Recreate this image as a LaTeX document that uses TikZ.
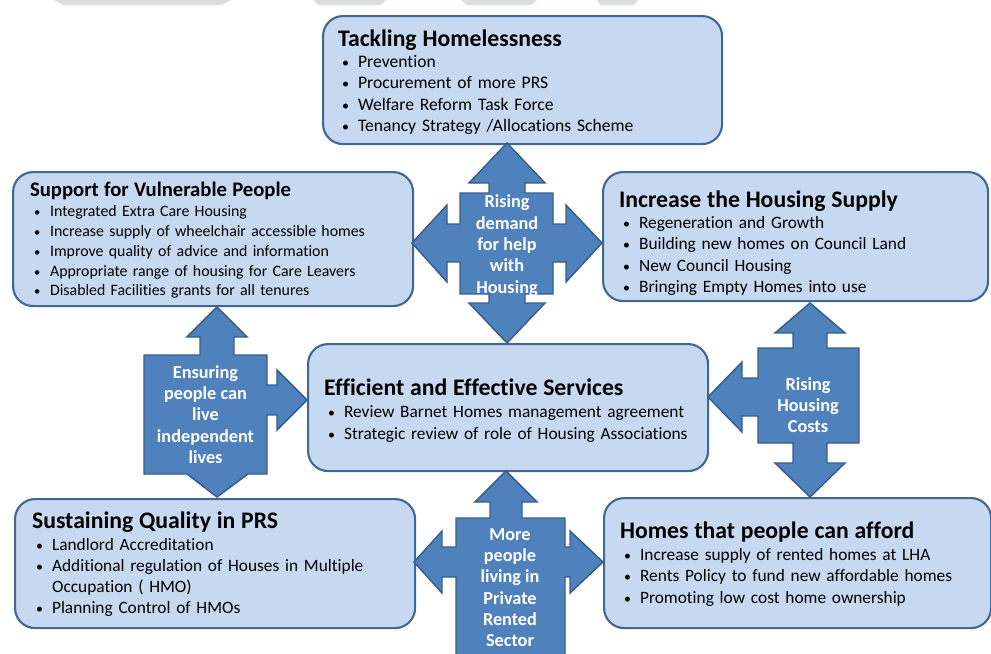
\documentclass[tikz,border=0pt]{standalone}
\usepackage{fontspec}
\setmainfont[Ligatures=NoCommon]{Carlito}
\definecolor{boxfill}{HTML}{C6D9F1}
\definecolor{boxline}{HTML}{41698F}
\definecolor{arrfill}{HTML}{4F81BD}
\definecolor{arrline}{HTML}{385D8A}
\definecolor{scrap}{HTML}{DCDCDC}
\newcommand{\bul}{\hspace*{3pt}\makebox[12pt][l]{\scalebox{0.8}{\textbullet}}}
\newcommand{\hd}[2]{{\bfseries\fontsize{#1}{#1}\selectfont #2}}
\tikzset{
  topic/.style={draw=boxline, fill=boxfill, line width=1.6pt, rounded corners=15pt,
    align=left, inner xsep=12pt, inner ysep=0pt, anchor=north west},
  callout/.style={draw=arrline, fill=arrfill, line width=1.1pt},
  callouttext/.style={text=white, font=\bfseries\fontsize{13.7}{16}\selectfont, align=center},
}
\begin{document}
\begin{tikzpicture}[x=0.75pt,y=-0.75pt]
  \clip (0,0) rectangle (991,653);
  % scraps of the page above
  \fill[scrap] (54,0) -- (231,0) -- (222,5) -- (63,5) -- cycle;
  \fill[scrap] (313,0) -- (386,0) -- (380,5) -- (318,5) -- cycle;
  \fill[scrap] (461,0) -- (537,0) -- (531,5) -- (467,5) -- cycle;
  \fill[scrap] (597,0) -- (638,0) -- (634,5) -- (600,5) -- cycle;

  % topic boxes
  \path (322,15) node[topic, inner xsep=11.25pt, text width=276.75pt,
      text height=22.5pt, text depth=73.5pt,
      font=\fontsize{13.2}{16}\selectfont] (homeless) {%
    \hd{17.8}{Tackling Homelessness}\\
    \bul Prevention\\
    \bul Procurement of more PRS\\
    \bul Welfare Reform Task Force\\
    \bul Tenancy Strategy /Allocations Scheme};
  \path (12,171) node[topic, inner xsep=12.75pt, text width=274.5pt,
      text height=18pt, text depth=82.5pt,
      font=\fontsize{11.9}{14.8}\selectfont] (vulnerable) {%
    \hd{15.5}{Support for Vulnerable People}\\[0.8pt]
    \bul Integrated Extra Care Housing\\
    \bul Increase supply of wheelchair accessible homes\\
    \bul Improve quality of advice and information\\
    \bul Appropriate range of housing for Care Leavers\\
    \bul Disabled Facilities grants for all tenures};
  \path (602,171) node[topic, text width=264.75pt,
      text height=26.25pt, text depth=70.5pt,
      font=\fontsize{13}{16}\selectfont] (supply) {%
    \hd{17.8}{Increase the Housing Supply}\\
    \bul Regeneration and Growth\\
    \bul Building new homes on Council Land\\
    \bul New Council Housing\\
    \bul Bringing Empty Homes into use};
  \path (307,343) node[topic, text width=276pt,
      text height=38.25pt, text depth=57pt,
      font=\fontsize{13}{16.5}\selectfont] (services) {%
    \hd{17.8}{Efficient and Effective Services}\\[0.3pt]
    \bul Review Barnet Homes management agreement\\
    \bul Strategic review of role of Housing Associations};
  \path (14,498) node[topic, inner xsep=12.75pt, text width=274.5pt,
      text height=21.75pt, text depth=75pt,
      font=\fontsize{13}{15.75}\selectfont] (prs) {%
    \hd{17.8}{Sustaining Quality in PRS}\\[1pt]
    \bul Landlord Accreditation\\
    \bul Additional regulation of Houses in Multiple\\
    \hspace*{15pt}Occupation ( HMO)\\
    \bul Planning Control of HMOs};
  \path (603,497) node[topic, text width=266.25pt,
      text height=30pt, text depth=67.5pt,
      font=\fontsize{13}{16}\selectfont] (afford) {%
    \hd{17.8}{Homes that people can afford}\\[0.8pt]
    \bul Increase supply of rented homes at LHA\\
    \bul Rents Policy to fund new affordable homes\\
    \bul Promoting low cost home ownership};

  % callout arrows
  \draw[callout] (507,143) -- (545,183) -- (525,183) -- (525,193) -- (553,193)
    -- (553,224) -- (566,224) -- (566,205) -- (602,243) -- (566,282) -- (566,262)
    -- (553,262) -- (553,294) -- (525,294) -- (525,303) -- (545,303) -- (507,343)
    -- (469,303) -- (489,303) -- (489,294) -- (460,294) -- (460,262) -- (447,262)
    -- (447,282) -- (412,243) -- (447,205) -- (447,224) -- (460,224) -- (460,193)
    -- (489,193) -- (489,183) -- (469,183) -- cycle;
  \draw[callout] (217,307) -- (247,337) -- (234,337) -- (234,355) -- (267,355)
    -- (267,385) -- (277,385) -- (277,370) -- (307,400) -- (277,430) -- (277,415)
    -- (267,415) -- (267,474) -- (248,474) -- (217,497) -- (187,474) -- (144,474)
    -- (144,355) -- (200,355) -- (200,337) -- (187,337) -- cycle;
  \draw[callout] (810,303) -- (845,333) -- (827,333) -- (827,348) -- (859,348)
    -- (859,443) -- (827,443) -- (827,463) -- (845,463) -- (810,497) -- (775,463)
    -- (793,463) -- (793,443) -- (758,443) -- (758,416) -- (742,416) -- (742,432)
    -- (708,397) -- (742,362) -- (742,378) -- (758,378) -- (758,348) -- (793,348)
    -- (793,333) -- (775,333) -- cycle;
  \draw[callout] (506,471) -- (537,502) -- (522,502) -- (522,518) -- (565,518)
    -- (565,547) -- (570,547) -- (570,531) -- (603,562) -- (570,593) -- (570,577)
    -- (565,577) -- (565,665) -- (456,665) -- (456,577) -- (442,577) -- (442,593)
    -- (414,562) -- (442,531) -- (442,547) -- (456,547) -- (456,518) -- (490,518)
    -- (490,502) -- (475,502) -- cycle;

  % callout texts
  \path (507,245.5) node[callouttext] (demand) {Rising\\demand\\for help\\with\\Housing};
  \path (205.5,414.5) node[callouttext] (independent) {Ensuring\\people can\\live\\independent\\lives};
  \path (808,405) node[callouttext] (costs) {Rising\\Housing\\Costs};
  \path (510,587.5) node[callouttext] (privaterented) {More\\people\\living in\\Private\\Rented\\Sector};
\end{tikzpicture}
\end{document}
